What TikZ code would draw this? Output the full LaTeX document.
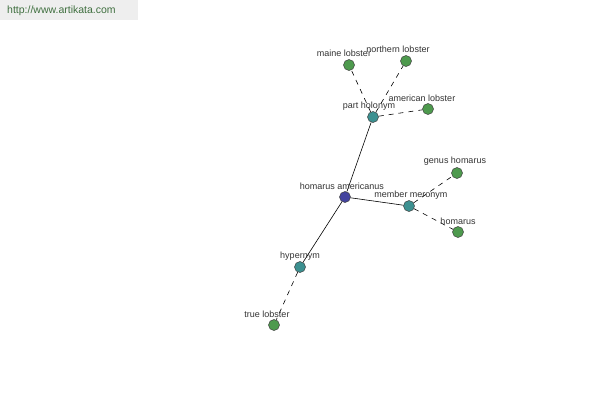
\documentclass[tikz,border=0pt]{standalone}
\usepackage{fontspec}
\setmainfont{Liberation Sans}
\definecolor{cblue}{HTML}{44449E}
\definecolor{cteal}{HTML}{3C9090}
\definecolor{cgreen}{HTML}{4E9A4E}
\definecolor{cweb}{HTML}{3F6F3F}
\definecolor{cwebbg}{HTML}{EEEEEE}
\begin{document}
\begin{tikzpicture}[x=1pt,y=-1pt,
  dot/.style={circle,draw=black!75,line width=0.5pt,inner sep=0pt,minimum size=11pt},
  hub/.style={dot,fill=cblue},
  rel/.style={dot,fill=cteal},
  leaf/.style={dot,fill=cgreen},
  lbl/.style={font=\fontsize{9}{10}\selectfont,text=black!80,inner sep=0pt},
  solidlink/.style={draw=black,line width=0.6pt},
  dashlink/.style={draw=black,line width=0.6pt,dash pattern=on 5pt off 5pt}]
\useasboundingbox (0,0) rectangle (600,400);
\fill[white] (0,0) rectangle (600,400);
\fill[cwebbg] (0,0) rectangle (138,20);
\node[anchor=west,inner sep=0pt,font=\fontsize{10.5}{12}\selectfont,text=cweb] (web) at (7,11) {http://www.artikata.com};

\node[hub] (ha) at (345,197) {};
\node[rel] (ph) at (373,117) {};
\node[rel] (mm) at (409,206) {};
\node[rel] (hy) at (300,267) {};
\node[leaf] (ml) at (349,65) {};
\node[leaf] (nl) at (406,61) {};
\node[leaf] (al) at (428,109) {};
\node[leaf] (gh) at (457,173) {};
\node[leaf] (ho) at (458,232) {};
\node[leaf] (tl) at (274,325) {};

\draw[solidlink] (ha) -- (ph);
\draw[solidlink] (ha) -- (mm);
\draw[solidlink] (ha) -- (hy);
\draw[dashlink] (ph) -- (ml);
\draw[dashlink] (ph) -- (nl);
\draw[dashlink] (ph) -- (al);
\draw[dashlink] (mm) -- (gh);
\draw[dashlink] (mm) -- (ho);
\draw[dashlink] (hy) -- (tl);

\node[lbl] (lha) at (342,186) {homarus americanus};
\node[lbl] (lph) at (369,106) {part holonym};
\node[lbl] (lmm) at (411,195) {member meronym};
\node[lbl] (lhy) at (300,256) {hypernym};
\node[lbl] (lml) at (344,53) {maine lobster};
\node[lbl] (lnl) at (398,49) {northern lobster};
\node[lbl] (lal) at (422,98) {american lobster};
\node[lbl] (lgh) at (455,161) {genus homarus};
\node[lbl] (lho) at (458,221) {homarus};
\node[lbl] (ltl) at (267,314) {true lobster};
\end{tikzpicture}
\end{document}
